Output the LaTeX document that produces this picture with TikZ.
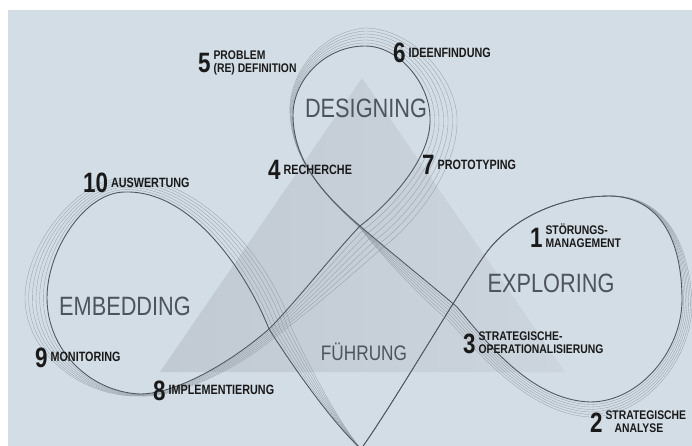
\documentclass[tikz,border=0pt]{standalone}
\usepackage{fontspec}
\setmainfont{Liberation Sans}
\newfontfamily\namefont[FakeStretch=0.82]{Liberation Sans}
\newfontfamily\tagfont[FakeStretch=0.8]{Liberation Sans}
\newfontfamily\tagwide[FakeStretch=0.83]{Liberation Sans}

\definecolor{bgblue}{HTML}{D3DDE6}
\definecolor{triA}{HTML}{C1CAD3}
\definecolor{triB}{HTML}{CCD5DE}
\definecolor{mainline}{HTML}{50575F}
\definecolor{ribbonline}{HTML}{8A939C}
\definecolor{namegray}{HTML}{4D545B}

% the endless three-loop line; #2 moves it outwards into the ribbon
\newcommand\drawloop[2]{%
\draw[#1] (361,449)
 .. controls ({330+4*#2},{420-4*#2}) and ({292+14*#2},{365-6*#2}) .. ({269+22*#2},{329-2*#2})
 .. controls ({250+28*#2},{280-4*#2}) and ({195+14*#2},{190-14*#2}) .. (125,{192-14*#2})
 .. controls ({85-8*#2},{192-14*#2}) and ({47-22*#2},{250-4*#2}) .. ({47-22*#2},298)
 .. controls ({47-22*#2},{350+4*#2}) and ({90-6*#2},{392+6*#2}) .. (140,{394+2*#2})
 .. controls (175,{394+4*#2}) and ({229+4*#2},{364+8*#2}) .. ({269+6*#2},{329+8*#2})
 .. controls ({295+10*#2},{303+12*#2}) and ({335+18*#2},{252+22*#2}) .. ({360+22*#2},{226+22*#2})
 .. controls ({385+26*#2},{207+20*#2}) and ({432+27*#2},{160+10*#2}) .. ({430+27*#2},118)
 .. controls ({430+25*#2},{85-10*#2}) and ({400+10*#2},{46-18*#2}) .. (365,{46-18*#2})
 .. controls ({325-6*#2},{46-14*#2}) and ({293-6*#2},{80-4*#2}) .. ({293-3*#2},115)
 .. controls (293,165) and (330,200) .. (360,{226+2*#2})
 .. controls ({395-4*#2},{256+10*#2}) and ({430-8*#2},{284+14*#2}) .. ({457-8*#2},{307+14*#2})
 .. controls ({485-6*#2},{340+14*#2}) and (530,{400+14*#2}) .. (590,{402+15*#2})
 .. controls ({640+8*#2},{402+14*#2}) and ({682+12*#2},{350+6*#2}) .. ({682+10*#2},300)
 .. controls ({682+6*#2},{240-4*#2}) and (660,{197-2*#2}) .. (610,196)
 .. controls (560,196) and (515,218) .. (490,248)
 .. controls (470,272) and (396,400) .. (361,449);}

\tikzset{
  ribbon/.style={draw=ribbonline, line width=0.35pt, opacity=0.8},
  core/.style={draw=mainline, line width=0.9pt},
  stagename/.style={font=\namefont\fontsize{26.5}{26.5}\selectfont, text=namegray, inner sep=0pt, anchor=base},
  stepnum/.style={font=\tagfont\fontsize{28}{28}\selectfont\bfseries, text=black!90, inner sep=0pt, anchor=base west},
  steptext/.style={font=\tagfont\fontsize{13.5}{13.5}\selectfont\bfseries, text=black!90, inner sep=0pt, anchor=base west},
  steptwo/.style={font=\tagwide\fontsize{12.5}{12.5}\selectfont\bfseries, text=black!90, inner sep=0pt, anchor=base west}
}

\begin{document}
\begin{tikzpicture}[x=1pt,y=-1pt]
\useasboundingbox (0,0) rectangle (692,446);
\fill[white] (0,0) rectangle (692,446);
\fill[bgblue] (8,10) rectangle (692,446);

% pale triangle behind the loops
\shade[left color=triA, right color=triB] (362,78) -- (565,372) -- (160,372) -- cycle;

\begin{scope}
\clip (8,10) rectangle (692,446);
\foreach \k in {1,...,6} {
  \pgfmathsetmacro\rf{\k/6}
  \drawloop{ribbon}{\rf}
}
\drawloop{core}{0}
\end{scope}

% stage names
\node[stagename] (designing) at (366,118) {DESIGNING};
\node[stagename] (embedding) at (125,315) {EMBEDDING};
\node[stagename] (exploring) at (551,292) {EXPLORING};
\node[stagename, font=\namefont\fontsize{21}{21}\selectfont] (fuehrung) at (364,360) {FÜHRUNG};

% numbered steps with two text lines
\node[stepnum] (n1) at (530,247) {1};
\node[steptwo] (t1b) at ([xshift=2.5pt]n1.base east) {MANAGEMENT};
\node[steptwo] (t1a) at ([xshift=2.5pt,yshift=13pt]n1.base east) {STÖRUNGS-};

\node[stepnum] (n2) at (590,432) {2};
\node[steptwo] (t2a) at ([xshift=2.5pt,yshift=13pt]n2.base east) {STRATEGISCHE};
\node[steptwo] (t2b) at ([xshift=11.5pt]n2.base east) {ANALYSE};

\node[stepnum] (n3) at (463,353) {3};
\node[steptwo] (t3a) at ([xshift=2.5pt,yshift=13pt]n3.base east) {STRATEGISCHE-};
\node[steptwo] (t3b) at ([xshift=2.5pt]n3.base east) {OPERATIONALISIERUNG};

\node[stepnum] (n5) at (198,73) {5};
\node[steptwo] (t5a) at ([xshift=2.5pt,yshift=13pt]n5.base east) {PROBLEM};
\node[steptwo] (t5b) at ([xshift=2.5pt]n5.base east) {(RE) DEFINITION};

% numbered steps with one text line
\node[stepnum] (n4) at (268,180) {4};
\node[steptext] (t4) at ([xshift=2.5pt,yshift=5.2pt]n4.base east) {RECHERCHE};
\node[stepnum] (n6) at (393,63) {6};
\node[steptext] (t6) at ([xshift=2.5pt,yshift=5.2pt]n6.base east) {IDEENFINDUNG};
\node[stepnum] (n7) at (422,175) {7};
\node[steptext] (t7) at ([xshift=2.5pt,yshift=5.2pt]n7.base east) {PROTOTYPING};
\node[stepnum] (n8) at (153,400) {8};
\node[steptext] (t8) at ([xshift=2.5pt,yshift=5.2pt]n8.base east) {IMPLEMENTIERUNG};
\node[stepnum] (n9) at (35,367) {9};
\node[steptext] (t9) at ([xshift=2.5pt,yshift=5.2pt]n9.base east) {MONITORING};
\node[stepnum] (n10) at (83,193) {10};
\node[steptext] (t10) at ([xshift=2.5pt,yshift=5.2pt]n10.base east) {AUSWERTUNG};
\end{tikzpicture}
\end{document}
